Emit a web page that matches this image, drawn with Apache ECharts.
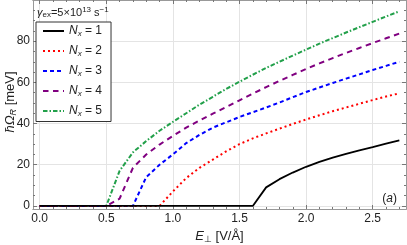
<!DOCTYPE html>
<html><head><meta charset="utf-8">
<script src="https://cdn.jsdelivr.net/npm/echarts@6/dist/echarts.min.js"></script>
<style>html,body{margin:0;padding:0;background:#fff}#c{width:407px;height:245px}</style>
</head><body><div id="c"></div>
<script>
var xs = [0.0,0.1,0.2,0.3,0.4,0.5,0.6,0.7,0.8,0.9,1.0,1.1,1.2,1.3,1.4,1.5,1.6,1.7,1.8,1.9,2.0,2.1,2.2,2.3,2.4,2.5,2.6,2.7];
var n1 = [0,0,0,0,0,0,0,0,0,0,0,0,0,0,0,0,0,9,13,16.2,19,21.4,23.5,25.3,27,28.5,30.2,31.8];
var n2 = [0,0,0,0,0,0,0,0,0,0,7,13.5,18.5,22.5,26.5,30,32.8,35.2,37.5,39.8,42,44,46,47.8,49.6,51.4,53.1,54.7];
var n3 = [0,0,0,0,0,0,0,0,14,20,25,30.5,34.5,38,40.6,43.2,45.5,47.8,50.2,52.8,55.3,57.5,59.7,61.8,63.9,66,68,70];
var n4 = [0,0,0,0,0,0,3.5,18.5,25,29.8,34,38,41.5,44.8,48,51.3,54.5,57.7,60.7,63.6,66.5,69.2,71.8,74.3,76.7,79.1,81.4,83.7];
var n5 = [0,0,0,0,0,0,17,26,31.5,36.5,40.8,45,49.2,53,56.8,60.3,63.7,67,70,73,75.9,78.8,81.5,84.2,86.8,89.4,92,94.5];
var seriesNames = ['Nx = 1','Nx = 2','Nx = 3','Nx = 4','Nx = 5'];
var xTicks = [0,0.5,1.0,1.5,2.0,2.5];
var yTicks = [0,20,40,60,80];

function pairs(ys){ return xs.map(function(x,i){ return [x, ys[i]]; }); }
var xMinor = []; for (var k=0;k<=27;k++){ if (k%5!==0) xMinor.push(k/10); }
var yMinor = []; for (var m=0;m<=95;m+=5){ if (m%20!==0) yMinor.push(m); }

var FONT = 'Liberation Sans, Arial, sans-serif';
var XMIN=-0.05, XMAX=2.75, YMIN=-1.5, YMAX=100;
var frameColor = '#999';
var tickColor = '#777';

function xAx(pos, major, showLabel){
  return {
    type:'value', position:pos, min:XMIN, max:XMAX, splitNumber:5,
    axisLine:{show:true, onZero:false, lineStyle:{color:frameColor, width:1}},
    axisTick:{show:true, inside:true, length: major?4:2, customValues: major?xTicks:xMinor, lineStyle:{color:tickColor}},
    axisLabel:{show:showLabel, customValues:xTicks, color:'#222', fontSize:12, fontFamily:FONT, margin:4,
      formatter:function(v){ return v.toFixed(1); }},
    splitLine:{show: major && pos==='bottom', lineStyle:{color:'#e4e4e4', width:1}},
    name: (major && pos==='bottom') ? '{i|E}{s|⊥} [V/Å]' : '',
    nameLocation:'middle', nameGap:20,
    nameTextStyle:{color:'#222', fontSize:13, fontFamily:FONT,
      rich:{i:{fontStyle:'italic', fontSize:13, fontFamily:FONT, color:'#222'},
            s:{fontSize:9, fontFamily:FONT, color:'#222', padding:[6,0,0,0]}}}
  };
}
function yAx(pos, major, showLabel){
  return {
    type:'value', position:pos, min:YMIN, max:YMAX, splitNumber:5,
    axisLine:{show:true, onZero:false, lineStyle:{color:frameColor, width:1}},
    axisTick:{show:true, inside:true, length: major?4:2, customValues: major?yTicks:yMinor, lineStyle:{color:tickColor}},
    axisLabel:{show:showLabel, customValues:yTicks, color:'#222', fontSize:12, fontFamily:FONT, margin:3},
    splitLine:{show: major && pos==='left', lineStyle:{color:'#e4e4e4', width:1}}
  };
}

var styles = [
  {color:'#000000', type:'solid', width:1.8},
  {color:'#ff0000', type:[2,3], width:2},
  {color:'#0000ff', type:[4,3], width:2},
  {color:'#800080', type:[5.5,4.5], width:2},
  {color:'#22a04a', type:[4.5,2,1.5,2], width:2}
];
var datasets = [n1,n2,n3,n4,n5];

var chart = echarts.init(document.getElementById('c'), null, {renderer:'canvas'});
chart.setOption({
  animation:false,
  backgroundColor:'#ffffff',
  grid:{left:33, right:1, top:0, bottom:36, containLabel:false, outerBoundsMode:'none'},
  xAxis:[xAx('bottom',true,true), xAx('bottom',false,false), xAx('top',true,false), xAx('top',false,false)],
  yAxis:[yAx('left',true,true), yAx('left',false,false), yAx('right',true,false), yAx('right',false,false)],
  legend:{
    orient:'vertical', left:36, top:22, padding:[3,9,4,6], itemGap:7.5, itemWidth:21, itemHeight:14,
    borderColor:'#333', borderWidth:1, backgroundColor:'#fff',
    data: seriesNames.map(function(n){ return {name:n}; }),
    itemStyle:{opacity:0},
    formatter:function(n){ return '{i|N}{s|x} = ' + n.slice(-1); },
    textStyle:{color:'#222', fontSize:12, fontFamily:FONT,
      rich:{i:{fontStyle:'italic', fontSize:12, fontFamily:FONT, color:'#222'},
            s:{fontStyle:'italic', fontSize:8, fontFamily:FONT, color:'#222', padding:[5,0,0,0]}}}
  },
  graphic:[
    {type:'text', left:37, top:6, z:100, style:{
      text:'{g|γ}{s|ex}=5×10{p|13} s{p|−1}', fill:'#222', fontSize:11, fontFamily:FONT,
      rich:{g:{fontStyle:'italic', fontSize:11, fontFamily:FONT},
            s:{fontSize:8, fontFamily:FONT, padding:[4,0,0,0]},
            p:{fontSize:8, fontFamily:FONT, padding:[0,0,5,0]}}}},
    {type:'text', right:10, top:193, z:100, style:{
      text:'({i|a})', fill:'#222', fontSize:12, fontFamily:FONT,
      rich:{i:{fontStyle:'italic', fontSize:12, fontFamily:FONT}}}},
    {type:'text', x:10, y:102, rotation:Math.PI/2, z:100, style:{
      text:'{i|ħΩ}{s|R} [meV]', fill:'#222', fontSize:13, fontFamily:FONT, align:'center', verticalAlign:'middle',
      rich:{i:{fontStyle:'italic', fontSize:13, fontFamily:FONT},
            s:{fontStyle:'italic', fontSize:9, fontFamily:FONT, padding:[6,0,0,0]}}}}
  ],
  series: datasets.map(function(d,i){
    return {
      name: seriesNames[i], type:'line', xAxisIndex:0, yAxisIndex:0,
      data: pairs(d), showSymbol:false, symbol:'none', clip:false, z: 10 - i,
      lineStyle:{color:styles[i].color, type:styles[i].type, width:styles[i].width, cap:'butt'},
      itemStyle:{color:styles[i].color}
    };
  })
});
</script></body></html>
